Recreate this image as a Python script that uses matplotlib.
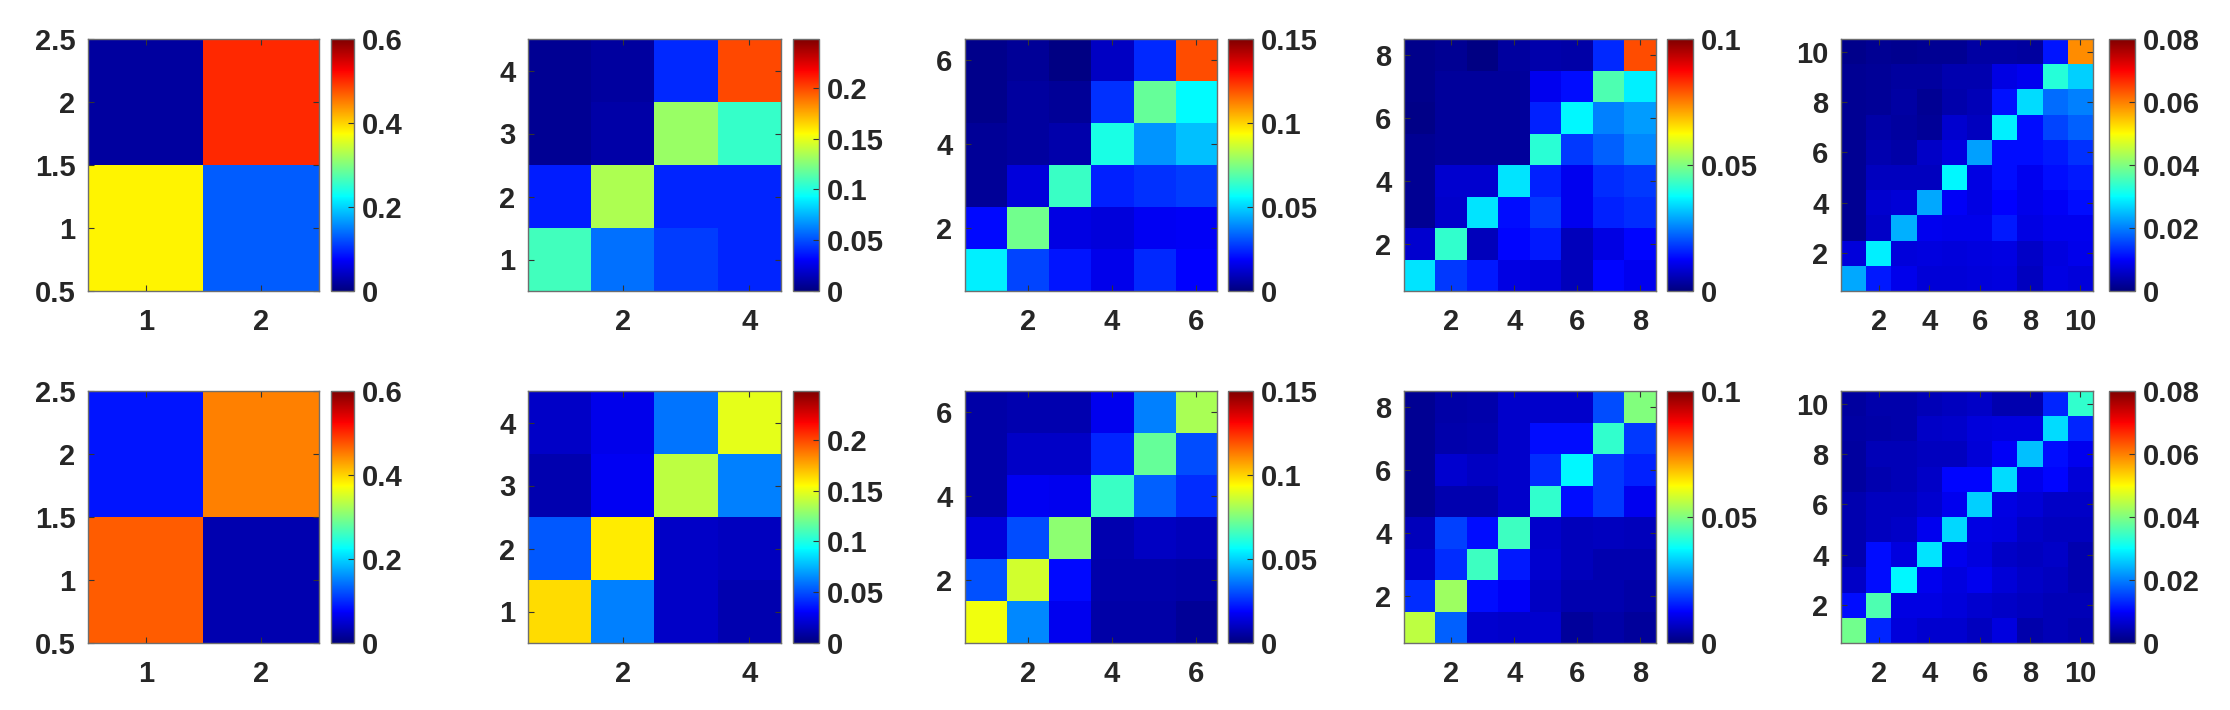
import numpy as np
import matplotlib
matplotlib.use('Agg')
import matplotlib.pyplot as plt
from matplotlib.colors import LinearSegmentedColormap

plt.rcParams['font.family'] = ['Liberation Sans', 'DejaVu Sans']
plt.rcParams['font.weight'] = 'bold'
plt.rcParams['font.size'] = 21

# matrices written top row first (y = N ... 1), columns x = 1 ... N
top_2 = [[0.02, 0.50],
         [0.38, 0.13]]
top_4 = [[0.005, 0.008, 0.041, 0.199],
         [0.005, 0.010, 0.130, 0.106],
         [0.038, 0.135, 0.040, 0.040],
         [0.109, 0.059, 0.046, 0.040]]
top_6 = [[0.002, 0.004, 0.001, 0.0105, 0.025, 0.120],
         [0.002, 0.005, 0.004, 0.026, 0.071, 0.056],
         [0.004, 0.005, 0.007, 0.060, 0.041, 0.047],
         [0.004, 0.014, 0.065, 0.024, 0.026, 0.028],
         [0.020, 0.073, 0.015, 0.014, 0.017, 0.018],
         [0.054, 0.029, 0.022, 0.016, 0.025, 0.019]]
top_8 = [[0.0013, 0.0022, 0.0005, 0.0032, 0.0045, 0.004, 0.0165, 0.0797],
         [0.0013, 0.003, 0.003, 0.003, 0.011, 0.014, 0.045, 0.036],
         [0.001, 0.003, 0.003, 0.003, 0.016, 0.037, 0.025, 0.028],
         [0.002, 0.003, 0.003, 0.003, 0.0415, 0.018, 0.022, 0.026],
         [0.002, 0.008, 0.008, 0.035, 0.016, 0.011, 0.017, 0.018],
         [0.002, 0.0075, 0.035, 0.014, 0.018, 0.011, 0.016, 0.017],
         [0.008, 0.0425, 0.006, 0.013, 0.015, 0.006, 0.010, 0.013],
         [0.035, 0.018, 0.015, 0.010, 0.009, 0.006, 0.013, 0.011]]
top_10 = [[0.001, 0.0018, 0.0015, 0.0018, 0.0018, 0.003, 0.003, 0.0026, 0.0116, 0.059],
          [0.0018, 0.002, 0.0026, 0.0026, 0.004, 0.004, 0.008, 0.0088, 0.033, 0.0265],
          [0.0018, 0.002, 0.003, 0.0018, 0.0035, 0.0045, 0.0115, 0.0273, 0.0186, 0.020],
          [0.0018, 0.0033, 0.0026, 0.002, 0.0065, 0.005, 0.029, 0.011, 0.0155, 0.0178],
          [0.0018, 0.004, 0.0033, 0.0057, 0.0078, 0.0225, 0.011, 0.011, 0.012, 0.014],
          [0.0018, 0.005, 0.005, 0.005, 0.0295, 0.008, 0.011, 0.009, 0.011, 0.012],
          [0.0018, 0.0065, 0.007, 0.0233, 0.0095, 0.008, 0.010, 0.0085, 0.0095, 0.011],
          [0.0018, 0.0057, 0.024, 0.009, 0.0085, 0.0085, 0.012, 0.008, 0.009, 0.009],
          [0.0073, 0.029, 0.0073, 0.0078, 0.0073, 0.0078, 0.008, 0.0057, 0.0078, 0.0085],
          [0.0233, 0.012, 0.0085, 0.007, 0.007, 0.0073, 0.0078, 0.005, 0.008, 0.0073]]

bot_2 = [[0.087, 0.4485],
         [0.469, 0.029]]
bot_4 = [[0.0176, 0.027, 0.060, 0.149],
         [0.012, 0.0285, 0.139, 0.0625],
         [0.053, 0.159, 0.0176, 0.016],
         [0.163, 0.0625, 0.0176, 0.012]]
bot_6 = [[0.0063, 0.0073, 0.0073, 0.0165, 0.038, 0.081],
         [0.0063, 0.0106, 0.0106, 0.0246, 0.071, 0.030],
         [0.006, 0.017, 0.0165, 0.065, 0.033, 0.0255],
         [0.014, 0.030, 0.077, 0.0073, 0.010, 0.009],
         [0.031, 0.087, 0.020, 0.007, 0.007, 0.006],
         [0.0915, 0.039, 0.0165, 0.006, 0.006, 0.004]]
bot_8 = [[0.002, 0.004, 0.0045, 0.0075, 0.0075, 0.0075, 0.0203, 0.050],
         [0.002, 0.0045, 0.005, 0.0075, 0.014, 0.014, 0.0425, 0.018],
         [0.002, 0.008, 0.007, 0.0075, 0.017, 0.037, 0.018, 0.016],
         [0.002, 0.005, 0.005, 0.0075, 0.0425, 0.014, 0.018, 0.011],
         [0.006, 0.019, 0.014, 0.0435, 0.0075, 0.006, 0.0065, 0.006],
         [0.0075, 0.017, 0.0435, 0.015, 0.008, 0.006, 0.005, 0.005],
         [0.017, 0.053, 0.014, 0.012, 0.007, 0.005, 0.005, 0.004],
         [0.056, 0.022, 0.008, 0.0075, 0.008, 0.003, 0.004, 0.003]]
bot_10 = [[0.0026, 0.0035, 0.0035, 0.0045, 0.0052, 0.0057, 0.004, 0.004, 0.013, 0.034],
          [0.003, 0.0033, 0.0035, 0.0057, 0.006, 0.0073, 0.0078, 0.0078, 0.0273, 0.013],
          [0.0026, 0.0045, 0.0045, 0.005, 0.0052, 0.007, 0.0095, 0.025, 0.011, 0.0088],
          [0.0026, 0.004, 0.0045, 0.0057, 0.0105, 0.0105, 0.0273, 0.0085, 0.0105, 0.007],
          [0.004, 0.005, 0.005, 0.0065, 0.009, 0.0265, 0.008, 0.007, 0.0057, 0.0057],
          [0.004, 0.0052, 0.0057, 0.009, 0.027, 0.008, 0.0078, 0.0057, 0.0052, 0.0052],
          [0.004, 0.011, 0.0078, 0.028, 0.009, 0.0078, 0.0057, 0.0052, 0.0057, 0.004],
          [0.0057, 0.011, 0.0295, 0.009, 0.0078, 0.009, 0.007, 0.0057, 0.005, 0.004],
          [0.011, 0.036, 0.008, 0.008, 0.0073, 0.0065, 0.0057, 0.005, 0.0045, 0.0045],
          [0.039, 0.013, 0.0073, 0.0065, 0.0065, 0.0052, 0.0078, 0.0035, 0.0045, 0.004]]

vmax_list = [0.6, 0.248, 0.15, 0.1, 0.08]
cbar_ticks = [[0, 0.2, 0.4, 0.6],
              [0, 0.05, 0.1, 0.15, 0.2],
              [0, 0.05, 0.1, 0.15],
              [0, 0.05, 0.1],
              [0, 0.02, 0.04, 0.06, 0.08]]
xticks_list = [[1, 2], [2, 4], [2, 4, 6], [2, 4, 6, 8], [2, 4, 6, 8, 10]]
yticks_list = [[0.5, 1, 1.5, 2, 2.5], [1, 2, 3, 4], [2, 4, 6], [2, 4, 6, 8], [2, 4, 6, 8, 10]]

# MATLAB style jet
mjet = LinearSegmentedColormap('mjet', {
    'red':   [(0, 0, 0), (3/8, 0, 0), (5/8, 1, 1), (7/8, 1, 1), (1, 0.5, 0.5)],
    'green': [(0, 0, 0), (1/8, 0, 0), (3/8, 1, 1), (5/8, 1, 1), (7/8, 0, 0), (1, 0, 0)],
    'blue':  [(0, 0.5, 0.5), (1/8, 1, 1), (3/8, 1, 1), (5/8, 0, 0), (1, 0, 0)],
}, N=256)

W, H = 2230, 710
fig = plt.figure(figsize=(W / 100, H / 100), dpi=100)

ax_left = [88, 528, 965, 1404, 1841]
ax_width = [231, 253, 252, 252, 252]
cb_left = [331, 793, 1228, 1667, 2109]
cb_width = [23, 26, 25, 26, 26]
row_top = [39, 391]
box_h = 252

edge = '#6e6e6e'
txt = '#262626'


def fmt(v):
    return '%g' % v


rows = [[top_2, top_4, top_6, top_8, top_10],
        [bot_2, bot_4, bot_6, bot_8, bot_10]]

for r, mats in enumerate(rows):
    for i, m in enumerate(mats):
        data = np.flipud(np.array(m))
        n = data.shape[0]
        bottom = 1 - (row_top[r] + box_h) / H
        ax = fig.add_axes([ax_left[i] / W, bottom, ax_width[i] / W, box_h / H])
        im = ax.imshow(data, cmap=mjet, vmin=0, vmax=vmax_list[i], origin='lower',
                       extent=[0.5, n + 0.5, 0.5, n + 0.5], aspect='auto',
                       interpolation='nearest')
        ax.set_xticks(xticks_list[i])
        ax.set_yticks(yticks_list[i])
        ax.set_xticklabels([fmt(t) for t in xticks_list[i]])
        ax.set_yticklabels([fmt(t) for t in yticks_list[i]])
        ax.tick_params(direction='in', length=4, width=0.8, color='#333333',
                       top=True, right=True, labelcolor=txt, labelsize=21)
        ax.tick_params(axis='y', pad=9)
        ax.tick_params(axis='x', pad=12)
        for sp in ax.spines.values():
            sp.set_color(edge)
            sp.set_linewidth(1)

        cax = fig.add_axes([cb_left[i] / W, bottom, cb_width[i] / W, box_h / H])
        cb = fig.colorbar(im, cax=cax, ticks=cbar_ticks[i])
        cb.ax.set_yticklabels([fmt(t) for t in cbar_ticks[i]])
        cb.ax.tick_params(direction='in', length=4, width=0.8, color='#333333',
                          labelcolor=txt, labelsize=21, pad=6)
        cb.outline.set_edgecolor(edge)
        cb.outline.set_linewidth(1)

fig.savefig('out.png', dpi=100)
